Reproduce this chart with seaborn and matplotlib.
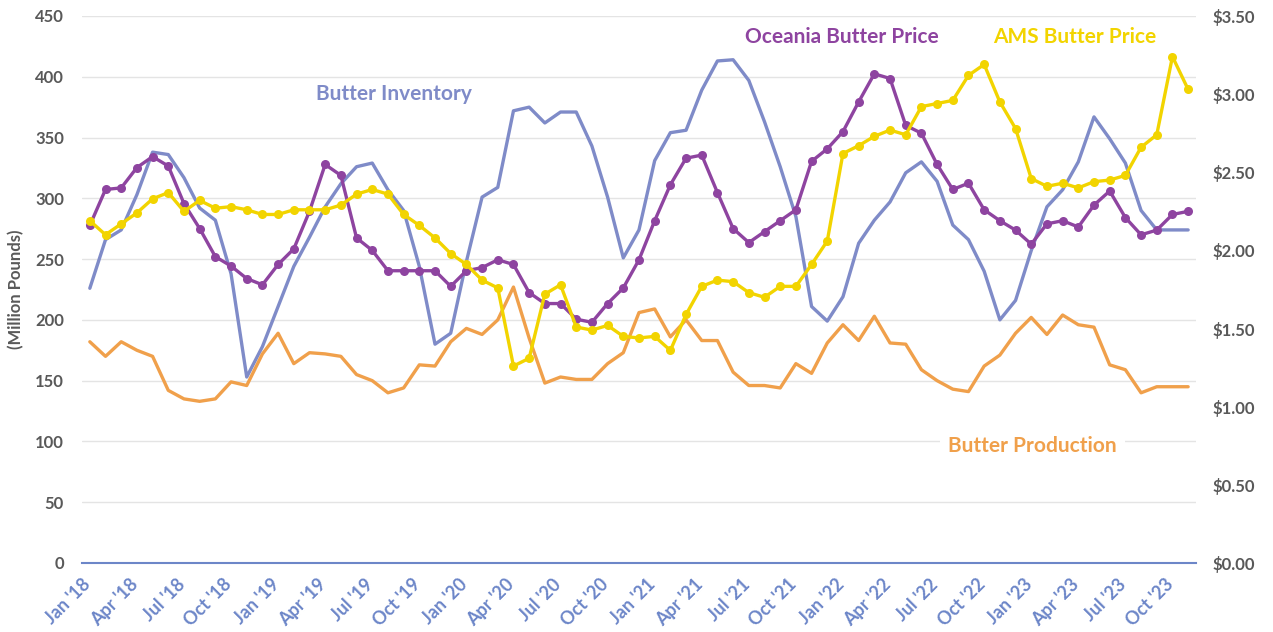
#import libraries
import numpy as np
import pandas as pd
import matplotlib
matplotlib.use("Agg")
import matplotlib.pyplot as plt
import seaborn as sns

# monthly data, Jan '18 - Nov '23
inventory = [226, 266, 274, 303, 338, 336, 317, 292, 282, 238, 153, 178,
             211, 244, 268, 293, 312, 326, 329, 307, 290, 244, 180, 189,
             248, 301, 309, 372, 375, 362, 371, 371, 343, 301, 251, 274,
             331, 354, 356, 389, 413, 414, 397, 363, 326, 285, 211, 199,
             219, 263, 282, 297, 321, 330, 314, 278, 266, 240, 200, 216,
             257, 293, 307, 330, 367, 349, 329, 290, 274, 274, 274]
production = [182, 170, 182, 175, 170, 142, 135, 133, 135, 149, 146, 172,
              189, 164, 173, 172, 170, 155, 150, 140, 144, 163, 162, 182,
              193, 188, 200, 227, 185, 148, 153, 151, 151, 164, 173, 206,
              209, 186, 200, 183, 183, 157, 146, 146, 144, 164, 156, 181,
              196, 183, 203, 181, 180, 159, 150, 143, 141, 162, 171, 189,
              202, 188, 204, 196, 194, 163, 159, 140, 145, 145, 145]
oceania = [2.16, 2.39, 2.40, 2.53, 2.60, 2.54, 2.30, 2.14, 1.96, 1.90, 1.82, 1.78,
           1.91, 2.01, 2.25, 2.55, 2.48, 2.08, 2.00, 1.87, 1.87, 1.87, 1.87, 1.77,
           1.87, 1.89, 1.94, 1.91, 1.73, 1.66, 1.66, 1.56, 1.54, 1.66, 1.76, 1.94,
           2.19, 2.42, 2.59, 2.61, 2.37, 2.14, 2.05, 2.12, 2.19, 2.26, 2.57, 2.65,
           2.76, 2.95, 3.13, 3.10, 2.80, 2.75, 2.55, 2.39, 2.43, 2.26, 2.19, 2.13,
           2.04, 2.17, 2.19, 2.15, 2.29, 2.38, 2.21, 2.10, 2.13, 2.23, 2.25]
ams = [2.19, 2.10, 2.17, 2.24, 2.33, 2.37, 2.25, 2.32, 2.27, 2.28, 2.26, 2.23,
       2.23, 2.26, 2.26, 2.26, 2.29, 2.36, 2.39, 2.36, 2.23, 2.16, 2.08, 1.98,
       1.91, 1.81, 1.76, 1.26, 1.31, 1.72, 1.78, 1.51, 1.49, 1.52, 1.45, 1.44,
       1.45, 1.36, 1.59, 1.77, 1.81, 1.80, 1.73, 1.70, 1.77, 1.77, 1.91, 2.06,
       2.62, 2.67, 2.73, 2.77, 2.74, 2.92, 2.94, 2.96, 3.12, 3.19, 2.95, 2.78,
       2.46, 2.41, 2.43, 2.40, 2.44, 2.45, 2.48, 2.66, 2.74, 3.24, 3.03]
quarter_labels = [f"{m} '{y}" for y in range(18, 24) for m in ["Jan", "Apr", "Jul", "Oct"]]

months = np.arange(len(inventory))

c_inv = "#7f8bc8"
c_prod = "#f0a04b"
c_oce = "#8e44a0"
c_ams = "#f2d400"
c_tick = "#595959"
c_x = "#6c86c8"

sns.set_theme(style="white")
plt.rcParams['font.family'] = ['Lato', 'DejaVu Sans']

fig = plt.figure(figsize=(12.73, 6.32), dpi=100)
ax = fig.add_axes([0.0644, 0.1092, 0.8751, 0.8655])
ax2 = ax.twinx()

sns.lineplot(x=months, y=inventory, ax=ax, color=c_inv, lw=2.4)
sns.lineplot(x=months, y=production, ax=ax, color=c_prod, lw=2.4)
sns.lineplot(x=months, y=oceania, ax=ax2, color=c_oce, lw=2.4, marker='o', markersize=6.5, markeredgewidth=0)
sns.lineplot(x=months, y=ams, ax=ax2, color=c_ams, lw=2.4, marker='o', markersize=6.5, markeredgewidth=0)

ax.set_xlim(-0.5, len(months) - 0.5)
ax.set_ylim(0, 450)
ax2.set_ylim(0, 3.5)
ax.set_yticks(range(0, 451, 50))
ax2.set_yticks(np.arange(0, 3.51, 0.5))
ax2.set_yticklabels([f"${v:.2f}" for v in np.arange(0, 3.51, 0.5)])

ax.grid(axis='y', color='#e4e4e4', lw=1)
ax.set_axisbelow(True)
for a in (ax, ax2):
    for s in ['top', 'left', 'right', 'bottom']:
        a.spines[s].set_visible(False)
ax.spines['bottom'].set_visible(True)
ax.spines['bottom'].set_color(c_x)
ax.spines['bottom'].set_linewidth(1.5)

ax.set_xticks(np.arange(-0.5, len(months), 3))
ax.set_xticklabels(quarter_labels, rotation=45, ha='right', rotation_mode='anchor',
                   color=c_x, fontsize=13, fontweight='bold')
ax.tick_params(axis='x', length=5, width=1.3, color=c_x, direction='out', pad=4)
ax.tick_params(axis='y', length=0, pad=13, labelsize=12, labelcolor=c_tick)
ax2.tick_params(axis='y', length=0, pad=12, labelsize=12, labelcolor=c_tick)
for lab in ax.get_yticklabels() + ax2.get_yticklabels():
    lab.set_fontweight('bold')

ax.set_ylabel("(Million Pounds)", color=c_tick, fontsize=12, fontweight='bold', labelpad=8)
ax2.set_ylabel("")
ax.set_xlabel("")

# series labels
ax.text(19.4, 386, "Butter Inventory", color=c_inv, fontsize=15, fontweight='bold', ha='center', va='center')
ax.text(47.9, 433, "Oceania Butter Price", color=c_oce, fontsize=15, fontweight='bold', ha='center', va='center')
ax.text(62.8, 433, "AMS Butter Price", color=c_ams, fontsize=15, fontweight='bold', ha='center', va='center')
ax.text(60.1, 96, "Butter Production", color=c_prod, fontsize=15, fontweight='bold', ha='center', va='center',
        bbox=dict(facecolor='white', edgecolor='none', pad=6))

fig.savefig("out.png", dpi=100)
